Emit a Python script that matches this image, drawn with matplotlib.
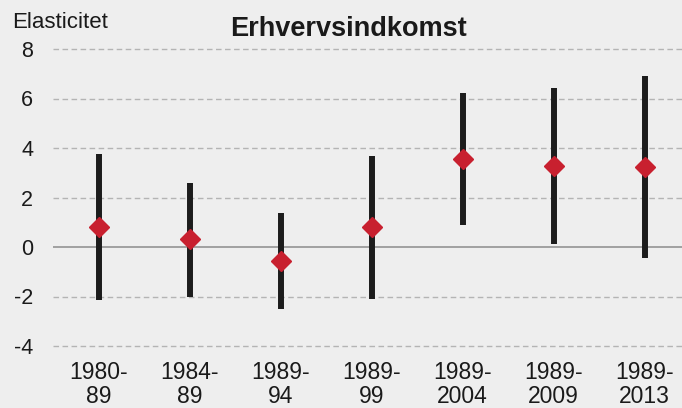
import matplotlib
matplotlib.use('AGG')
import matplotlib.pyplot as plt
import numpy as np

plt.rcParams['font.family'] = ['Liberation Sans', 'DejaVu Sans']

# periods and elasticity estimates with confidence bands
periods = ['1980-\n89', '1984-\n89', '1989-\n94', '1989-\n99', '1989-\n2004', '1989-\n2009', '1989-\n2013']
estimate = [0.81, 0.32, -0.57, 0.81, 3.56, 3.27, 3.23]
lower = [-2.14, -2.02, -2.50, -2.10, 0.89, 0.12, -0.44]
upper = [3.76, 2.59, 1.37, 3.68, 6.22, 6.42, 6.91]
yticks = [-4, -2, 0, 2, 4, 6, 8]

bg = '#eeeeee'
fig = plt.figure(figsize=(6.82, 4.08), dpi=100, facecolor=bg)
ax = fig.add_axes([53 / 682, 62 / 408, 629 / 682, 297 / 408], facecolor=bg)

x = np.arange(len(periods))
for yy in yticks:
    if yy == 0:
        ax.axhline(yy, color='#8c8c8c', lw=1.1, zorder=1)
    else:
        ax.axhline(yy, color='#b4b4b4', lw=1.0, ls=(0, (4, 2.5)), zorder=1, clip_on=False)

ax.vlines(x, lower, upper, color='#1c1c1c', lw=4.3, zorder=2)
ax.plot(x, estimate, ls='none', marker='D', ms=10.5, color='#c8202f', mec='#c8202f', zorder=3)

ax.set_xlim(-0.5, 6.41)
ax.set_ylim(-4, 8)
ax.set_yticks(yticks)
ax.set_yticklabels([str(v) for v in yticks], fontsize=15.5, color='#1a1a1a')
ax.set_xticks(x)
ax.set_xticklabels(periods, fontsize=16.5, color='#1a1a1a', linespacing=1.05)
ax.tick_params(length=0)
ax.tick_params(axis='x', pad=11)
ax.tick_params(axis='y', pad=14.4)
for s in ax.spines.values():
    s.set_visible(False)

fig.text(12 / 682, 1 - 28 / 408, 'Elasticitet', fontsize=16, va='baseline', ha='left', color='#1a1a1a')
fig.text(349 / 682, 1 - 36 / 408, 'Erhvervsindkomst', fontsize=19.5, fontweight='bold',
         va='baseline', ha='center', color='#1a1a1a')

plt.savefig('out.png', dpi=100, facecolor=bg)
